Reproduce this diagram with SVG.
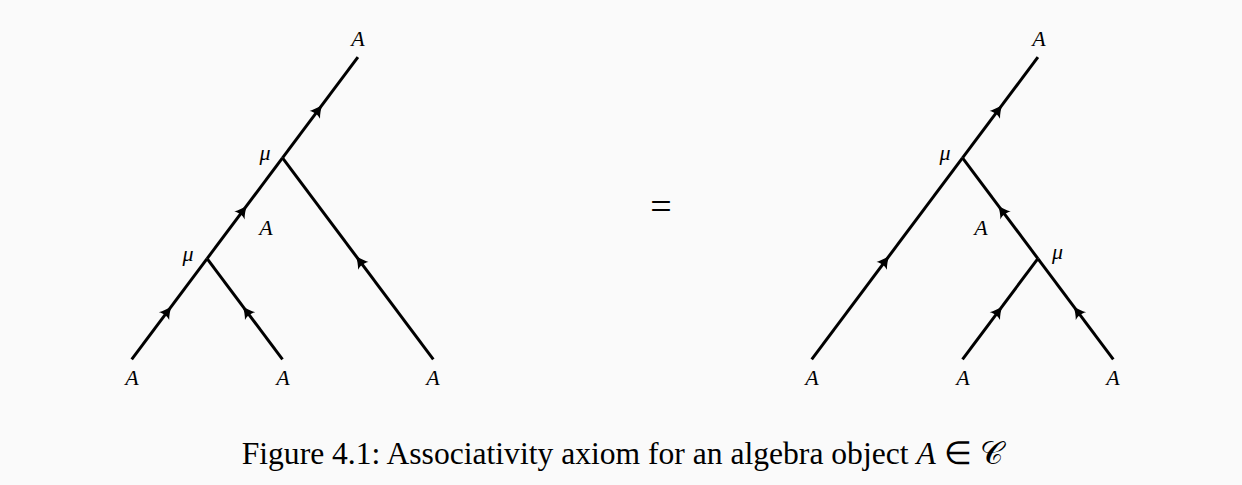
<svg xmlns="http://www.w3.org/2000/svg" xmlns:xlink="http://www.w3.org/1999/xlink" width="1242" height="485" viewBox="0 0 1242 485">
  <style>
    .wire { stroke: #000; stroke-width: 3; fill: none; stroke-linecap: butt; }
    .lbl { font-family: "Liberation Serif", "Times New Roman", serif; font-style: italic; font-size: 22px; fill: #000; text-anchor: middle; }
    .cap { font-family: "Liberation Serif", "Times New Roman", serif; font-size: 31.6px; fill: #000; }
    .eq { font-family: "Liberation Serif", "Times New Roman", serif; font-size: 38px; fill: #000; text-anchor: middle; }
  </style>
  <defs>
    <path id="ah" d="M1.5,0 C-3,-1.5 -7.5,-3.8 -11,-6.5 C-9,-3 -9,3 -11,6.5 C-7.5,3.8 -3,1.5 1.5,0 Z" fill="#000"/>
  </defs>
  <rect x="0" y="0" width="1242" height="485" fill="#fafafa"/>

  <g id="connectors">
    <!-- left tree -->
    <line class="wire" x1="131.7" y1="359.3" x2="207.1" y2="258.6"/>
    <line class="wire" x1="282.5" y1="359.3" x2="207.1" y2="258.6"/>
    <line class="wire" x1="207.1" y1="258.6" x2="282.5" y2="157.9"/>
    <line class="wire" x1="433.3" y1="359.3" x2="282.5" y2="157.9"/>
    <line class="wire" x1="282.5" y1="157.9" x2="357.9" y2="57.2"/>
    <use xlink:href="#ah" transform="translate(170.6,307.4) rotate(-53.17)"/>
    <use xlink:href="#ah" transform="translate(243.6,307.4) rotate(-126.83)"/>
    <use xlink:href="#ah" transform="translate(246.0,206.7) rotate(-53.17)"/>
    <use xlink:href="#ah" transform="translate(356.7,257.0) rotate(-126.83)"/>
    <use xlink:href="#ah" transform="translate(321.4,106.0) rotate(-53.17)"/>
    <!-- right tree -->
    <line class="wire" x1="811.7" y1="359.3" x2="962.5" y2="157.9"/>
    <line class="wire" x1="962.5" y1="359.3" x2="1037.9" y2="258.6"/>
    <line class="wire" x1="1113.3" y1="359.3" x2="1037.9" y2="258.6"/>
    <line class="wire" x1="1037.9" y1="258.6" x2="962.5" y2="157.9"/>
    <line class="wire" x1="962.5" y1="157.9" x2="1037.9" y2="57.2"/>
    <use xlink:href="#ah" transform="translate(888.3,257.0) rotate(-53.17)"/>
    <use xlink:href="#ah" transform="translate(1001.4,307.4) rotate(-53.17)"/>
    <use xlink:href="#ah" transform="translate(1074.4,307.4) rotate(-126.83)"/>
    <use xlink:href="#ah" transform="translate(999.0,206.7) rotate(-126.83)"/>
    <use xlink:href="#ah" transform="translate(1001.4,106.0) rotate(-53.17)"/>
  </g>

  <!-- left tree nodes -->
  <g id="L-in1"><text class="lbl" x="132" y="385">A</text></g>
  <g id="L-in2"><text class="lbl" x="283" y="385">A</text></g>
  <g id="L-in3"><text class="lbl" x="433" y="385">A</text></g>
  <g id="L-mu1"><text class="lbl" x="188" y="261">μ</text></g>
  <g id="L-mid"><text class="lbl" x="266" y="235">A</text></g>
  <g id="L-mu2"><text class="lbl" x="265" y="160">μ</text></g>
  <g id="L-out"><text class="lbl" x="358" y="46">A</text></g>

  <g id="equals"><text class="eq" x="661" y="219">=</text></g>

  <!-- right tree nodes -->
  <g id="R-in1"><text class="lbl" x="812" y="385">A</text></g>
  <g id="R-in2"><text class="lbl" x="963" y="385">A</text></g>
  <g id="R-in3"><text class="lbl" x="1113" y="385">A</text></g>
  <g id="R-mu1"><text class="lbl" x="1057.5" y="259">μ</text></g>
  <g id="R-mid"><text class="lbl" x="981" y="235">A</text></g>
  <g id="R-mu2"><text class="lbl" x="945" y="160">μ</text></g>
  <g id="R-out"><text class="lbl" x="1039" y="46">A</text></g>

  <g id="caption">
    <text class="cap" x="241.7" y="464">Figure 4.1: Associativity axiom for an algebra object <tspan font-style="italic">A</tspan> ∈ <tspan font-family="'DejaVu Serif', 'DejaVu Sans', serif">𝒞</tspan></text>
  </g>
</svg>
